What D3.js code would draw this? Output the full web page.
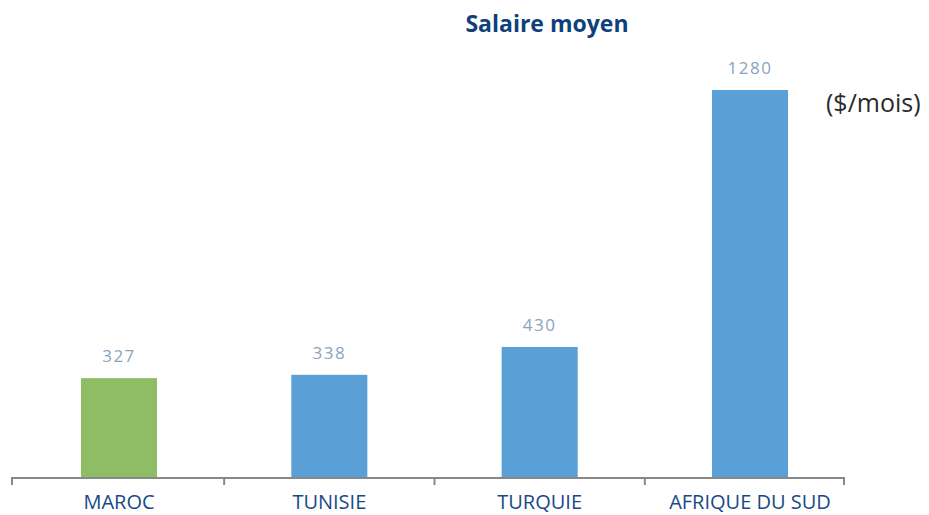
<!DOCTYPE html>
<html><head><meta charset="utf-8">
<script src="https://cdn.jsdelivr.net/npm/d3@7"></script>
<style>body{margin:0;background:#fff}svg{display:block}</style>
</head><body>
<script>
const categories = ["MAROC", "TUNISIE", "TURQUIE", "AFRIQUE DU SUD"];
const values = [327, 338, 430, 1280];
const barColors = ["#8fbd65", "#5a9fd5", "#5a9fd5", "#5a9fd5"];
const title = "Salaire moyen";
const unit = "($/mois)";

const W = 929, H = 515;
const svg = d3.select("body").append("svg").attr("width", W).attr("height", H);
const x = d3.scalePoint().domain(categories).range([119, 750]);
const barW = 76;
const y = d3.scaleLinear().domain([0, 1280]).range([477, 90]);

svg.selectAll("rect.bar").data(categories).join("rect")
  .attr("x", d => x(d) - barW/2).attr("width", barW)
  .attr("y", (d,i) => y(values[i])).attr("height", (d,i) => y(0) - y(values[i]))
  .attr("fill", (d,i) => barColors[i]);

// axis
const axisY = 478;
const step = x.step();
const bounds = categories.map(d => x(d) - step/2);
bounds[0] = 12;
bounds.push(844);
svg.append("line").attr("x1", 12).attr("x2", 844).attr("y1", axisY).attr("y2", axisY)
  .attr("stroke", "#888").attr("stroke-width", 2);
svg.selectAll("line.tick").data(bounds).join("line")
  .attr("x1", d => d).attr("x2", d => d).attr("y1", axisY - 1).attr("y2", axisY + 7)
  .attr("stroke", "#888").attr("stroke-width", 2);

svg.selectAll("text.cat").data(categories).join("text")
  .attr("x", d => x(d)).attr("y", 509)
  .attr("text-anchor", "middle").attr("fill", "#174a86")
  .style("font-family", "'Open Sans', sans-serif").style("font-size", "20px")
  .text(d => d);

svg.selectAll("text.val").data(categories).join("text")
  .attr("x", d => x(d)).attr("y", (d,i) => y(values[i]) - 16)
  .attr("text-anchor", "middle").attr("fill", "#88a5bf")
  .style("font-family", "'Open Sans', sans-serif").style("font-size", "17px")
  .style("letter-spacing", "1.5px")
  .text((d,i) => values[i]);

svg.append("text").attr("x", 547).attr("y", 32).attr("text-anchor", "middle")
  .attr("fill", "#0f3f7c").style("font-family", "'Open Sans', sans-serif")
  .style("font-size", "23px").style("font-weight", "bold").text(title);

svg.append("text").attr("x", 826).attr("y", 112)
  .attr("fill", "#2a2a2a").style("font-family", "'Open Sans', sans-serif")
  .style("font-size", "25px").text(unit);
</script>
</body></html>
